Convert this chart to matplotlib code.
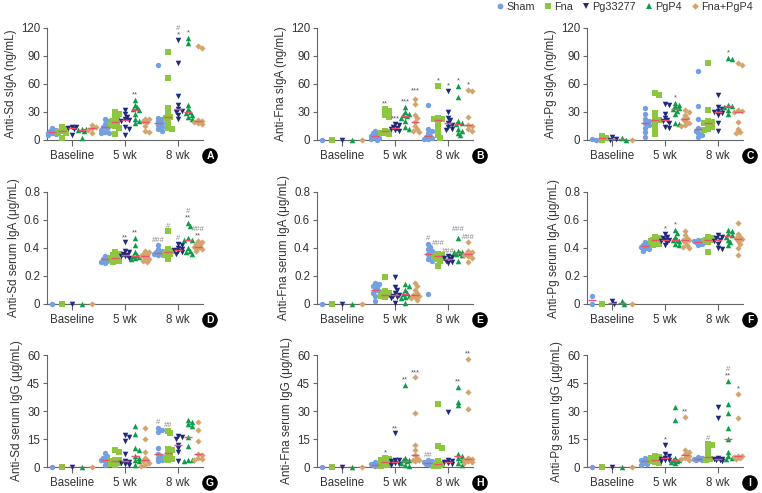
import numpy as np
import matplotlib.pyplot as plt
from matplotlib.lines import Line2D

plt.rcParams['font.family'] = ['Liberation Sans', 'DejaVu Sans']

groups = ['Sham', 'Fna', 'Pg33277', 'PgP4', 'Fna+PgP4']
times = ['Baseline', '5 wk', '8 wk']
colors = ['#72a0e0', '#8dc63f', '#1f2a7c', '#0f9c4a', '#d5a46c']
markers = ['o', 's', 'v', '^', 'D']
msizes = [15, 13, 16, 16, 10]

# ---- A: anti-Sd sIgA (ng/mL)
A_base = [[13, 11, 9, 8, 7, 6, 5, 10], [14, 12, 10, 9, 8, 2], [14, 13.5, 13, 12, 5],
          [12, 11.5, 11, 10, 2], [16, 14, 12.5, 11, 7]]
A_wk5 = [[22, 20, 17, 15, 14, 13, 11, 9, 8, 7], [30, 28, 25, 22, 20, 18, 17, 15, 13, 6],
         [32, 28, 25, 22, 21, 20, 14, 12, 5], [43, 38, 35, 33, 32, 28, 22, 20, 18],
         [23, 22, 20, 19, 15, 10, 9]]
A_wk8 = [[80, 24, 22, 20, 18, 16, 14, 12, 10], [94, 66, 34, 28, 25, 24, 18, 13, 12],
         [107, 82, 47, 37, 33, 31, 30, 27, 23], [109, 104, 37, 33, 30, 29, 27, 25, 23],
         [101, 99, 21, 20, 19, 18, 17]]
A_sig = {(1, 3): ['**'], (2, 2): ['*', '#'], (2, 3): ['*']}

# ---- B: anti-Fna sIgA (ng/mL)
B_base = [[0], [0], [0], [0], [0]]
B_wk5 = [[10, 9, 7, 5, 4, 3, 2, 1, 0.5], [33, 31, 27, 25, 10, 9, 8, 7, 6],
         [17, 16, 14, 13, 13, 12, 11, 10], [35, 30, 28, 27, 26, 24, 20, 14, 12],
         [44, 39, 27, 24, 19, 15, 12, 10, 9]]
B_wk8 = [[37, 12, 10, 7, 4, 3, 2, 1.5, 1], [58, 24, 23, 22, 21, 15, 10, 5, 2],
         [53, 30, 24, 21, 18, 16, 14, 12, 11], [58, 46, 20, 18, 17, 12, 10, 8, 5],
         [54, 52, 25, 16, 15, 12, 10]]
B_sig = {(1, 1): ['**'], (1, 2): ['***'], (1, 3): ['***'], (1, 4): ['***'],
         (2, 1): ['*'], (2, 2): ['*'], (2, 3): ['*'], (2, 4): ['*']}

# ---- C: anti-Pg sIgA (ng/mL)
C_base = [[1, 0], [4, 2, 0.5], [3, 1, 0], [2, 0], [0]]
C_wk5 = [[34, 28, 22, 20, 18, 16, 13, 9, 3], [50, 48, 29, 22, 21, 18, 14, 10, 6],
         [39, 37, 28, 24, 21, 20, 18, 14, 13], [40, 38, 36, 34, 33, 31, 28, 18, 17],
         [32, 30, 27, 24, 23, 20, 18, 16, 15]]
C_wk8 = [[74, 36, 22, 13, 12, 10, 7, 5, 3], [83, 32, 20, 19, 18, 16, 14, 12, 11],
         [48, 35, 33, 31, 30, 29, 27, 18, 10], [88, 87, 37, 36, 35, 32, 28],
         [82, 80, 32, 31, 30, 19, 12, 9, 7]]
C_sig = {(1, 3): ['*'], (2, 3): ['*']}

# ---- D: anti-Sd serum IgA (ug/mL)
D_base = [[0], [0], [0], [0], [0]]
D_wk5 = [[0.34, 0.33, 0.33, 0.32, 0.32, 0.31, 0.30, 0.29], [0.37, 0.36, 0.35, 0.34, 0.33, 0.33, 0.32, 0.31, 0.30],
         [0.44, 0.38, 0.37, 0.36, 0.35, 0.345, 0.34, 0.33, 0.33], [0.47, 0.42, 0.37, 0.35, 0.34, 0.335, 0.33, 0.33, 0.32],
         [0.38, 0.37, 0.36, 0.35, 0.34, 0.33, 0.32, 0.31, 0.30]]
D_wk8 = [[0.42, 0.39, 0.38, 0.37, 0.365, 0.36, 0.36, 0.35, 0.35], [0.52, 0.39, 0.38, 0.37, 0.37, 0.36, 0.35, 0.32],
         [0.43, 0.42, 0.40, 0.39, 0.385, 0.38, 0.37, 0.36, 0.36], [0.58, 0.56, 0.47, 0.46, 0.455, 0.40, 0.38, 0.37, 0.36],
         [0.45, 0.44, 0.43, 0.42, 0.41, 0.40, 0.39, 0.38, 0.38]]
D_sig = {(1, 2): ['**'], (1, 3): ['**'], (2, 0): ['###'], (2, 1): ['#'], (2, 2): ['#'],
         (2, 3): ['**', '#'], (2, 4): ['**', '###']}

# ---- E: anti-Fna serum IgA (ug/mL)
E_base = [[0], [0], [0], [0], [0]]
E_wk5 = [[0.15, 0.14, 0.13, 0.12, 0.10, 0.09, 0.08, 0.06, 0.02], [0.19, 0.09, 0.08, 0.07, 0.065, 0.06, 0.06, 0.05],
         [0.19, 0.12, 0.10, 0.08, 0.065, 0.06, 0.05, 0.04, 0.01], [0.14, 0.13, 0.10, 0.08, 0.07, 0.06, 0.05, 0.04, 0.01],
         [0.15, 0.13, 0.10, 0.08, 0.065, 0.06, 0.05, 0.04, 0.03]]
E_wk8 = [[0.43, 0.41, 0.39, 0.38, 0.36, 0.34, 0.32, 0.31, 0.07], [0.36, 0.35, 0.345, 0.34, 0.34, 0.33, 0.32, 0.31, 0.27],
         [0.34, 0.335, 0.33, 0.32, 0.32, 0.31, 0.30, 0.29], [0.47, 0.38, 0.375, 0.37, 0.365, 0.36, 0.35, 0.31],
         [0.44, 0.38, 0.37, 0.36, 0.355, 0.35, 0.34, 0.33, 0.30]]
E_sig = {(2, 0): ['#'], (2, 1): ['###'], (2, 2): ['###'], (2, 3): ['###'], (2, 4): ['###']}

# ---- F: anti-Pg serum IgA (ug/mL)
F_base = [[0.06, 0], [0], [0.02, 0], [0.02, 0], [0]]
F_wk5 = [[0.44, 0.43, 0.42, 0.42, 0.415, 0.41, 0.40, 0.39, 0.38], [0.48, 0.47, 0.46, 0.455, 0.455, 0.45, 0.44, 0.43, 0.42],
         [0.50, 0.48, 0.47, 0.46, 0.455, 0.45, 0.44, 0.42], [0.53, 0.51, 0.48, 0.46, 0.455, 0.45, 0.43, 0.42],
         [0.52, 0.49, 0.47, 0.46, 0.455, 0.44, 0.42, 0.41, 0.40]]
F_wk8 = [[0.46, 0.455, 0.45, 0.445, 0.44, 0.43, 0.42], [0.48, 0.47, 0.46, 0.455, 0.45, 0.44, 0.37],
         [0.49, 0.48, 0.47, 0.46, 0.45, 0.43, 0.40, 0.39], [0.53, 0.52, 0.50, 0.49, 0.48, 0.46, 0.44, 0.42],
         [0.58, 0.50, 0.48, 0.47, 0.465, 0.45, 0.43, 0.40, 0.35]]
F_sig = {(1, 2): ['*'], (1, 3): ['*']}

# ---- G: anti-Sd serum IgG (ug/mL)
G_base = [[0], [0], [0], [0], [0]]
G_wk5 = [[7.5, 6, 5, 4, 3.5, 3, 2, 1], [9, 8, 4, 3.5, 3, 2.5, 2, 1.5, 1],
         [17, 16, 14, 7, 3, 2.5, 2, 1.5, 1], [22, 17.5, 10, 9, 6, 5, 4, 3, 1],
         [21, 15, 8, 5, 3.5, 3, 2, 1, 0.5]]
G_wk8 = [[21, 20, 19, 10, 7, 6, 5, 4, 3], [19.5, 18, 9.5, 9, 7.5, 6, 5, 4.5, 4],
         [16.5, 16, 15, 12, 10, 8, 3], [25, 24, 23, 22, 16, 11, 4, 3.5, 3],
         [24, 20, 14, 7, 6.5, 5, 4.5, 4]]
G_sig = {(2, 0): ['#'], (2, 1): ['##']}

# ---- H: anti-Fna serum IgG (ug/mL)
H_base = [[0], [0], [0], [0], [0]]
H_wk5 = [[2.5, 2, 1.5, 1.2, 1, 0.5, 0.3], [5, 4.5, 4, 3, 2, 1.5, 1, 0.5],
         [18, 4, 3.5, 3, 2, 2, 1.5, 1], [44, 5, 4, 3.5, 3, 2, 1, 0.5],
         [48, 29, 12, 9, 6.5, 5, 4, 3.5, 3]]
H_wk8 = [[3.5, 3, 2.5, 2, 1.6, 1.5, 1], [34, 11, 10, 3, 1.8, 1.5, 1, 0.5, 0.3],
         [29.5, 3.5, 3, 2.5, 2.5, 2, 1.5], [43, 35, 33, 7, 6, 5, 4, 2, 1],
         [58, 40, 31, 5, 4.5, 4, 3, 2.5, 2]]
H_sig = {(1, 1): ['*'], (1, 2): ['**'], (1, 3): ['**'], (1, 4): ['***'],
         (2, 0): ['##'], (2, 3): ['**'], (2, 4): ['**']}

# ---- I: anti-Pg serum IgG (ug/mL)
I_base = [[0], [0], [0], [0], [0]]
I_wk5 = [[5, 4.5, 4, 3.5, 3, 2, 1.5, 1], [6, 5.5, 5, 4, 3.5, 3, 2.5, 2],
         [12, 7, 6, 5, 4.5, 4, 3.5, 3], [32, 25, 5, 4, 3.5, 3, 2.5, 2],
         [27, 9, 8, 7, 6, 5, 4.5, 4]]
I_wk8 = [[5.5, 5, 4.5, 4.3, 4, 3.5, 3.5], [12.5, 12, 9, 6, 4.5, 4.5, 4, 4],
         [32, 26.5, 5, 4.5, 4.3, 4, 3.5, 3], [46, 34, 29, 21, 15, 8, 6, 5, 4.5],
         [39, 26, 6, 5.7, 5.5, 5, 4.5]]
I_sig = {(1, 2): ['*'], (1, 4): ['**'], (2, 1): ['#'], (2, 3): ['**', '#'], (2, 4): ['*']}

# extra lift (px) for marks that sit higher in the picture
sig_lift = {('B', 1, 4): 3, ('E', 2, 1): 5, ('E', 2, 3): 4}

ylabels = ['Anti-Sd sIgA (ng/mL)', 'Anti-Fna sIgA (ng/mL)', 'Anti-Pg sIgA (ng/mL)',
           'Anti-Sd serum IgA (μg/mL)', 'Anti-Fna serum IgA (μg/mL)', 'Anti-Pg serum IgA (μg/mL)',
           'Anti-Sd serum IgG (μg/mL)', 'Anti-Fna serum IgG (μg/mL)', 'Anti-Pg serum IgG (μg/mL)']
row_ticks = [[0, 30, 60, 90, 120], [0, 0.2, 0.4, 0.6, 0.8], [0, 15, 30, 45, 60]]
row_ticklabels = [['0', '30', '60', '90', '120'], ['0', '0.2', '0.4', '0.6', '0.8'],
                  ['0', '15', '30', '45', '60']]

panels = [('A', A_base, A_wk5, A_wk8, A_sig), ('B', B_base, B_wk5, B_wk8, B_sig),
          ('C', C_base, C_wk5, C_wk8, C_sig), ('D', D_base, D_wk5, D_wk8, D_sig),
          ('E', E_base, E_wk5, E_wk8, E_sig), ('F', F_base, F_wk5, F_wk8, F_sig),
          ('G', G_base, G_wk5, G_wk8, G_sig), ('H', H_base, H_wk5, H_wk8, H_sig),
          ('I', I_base, I_wk5, I_wk8, I_sig)]

W, H = 762, 493
fig = plt.figure(figsize=(W / 100, H / 100), dpi=100)

col_left = [47, 317, 587]
row_top = [28, 192, 355]
aw, ah = 156, 112
xlim = (-0.47, 2.47)
goff = [-0.38, -0.19, 0.0, 0.19, 0.38]
axcol = '#666666'
txtcol = '#333333'


def swarm(ypx, step=2.0, mind=3.2):
    # greedy beeswarm in pixel units, returns x offsets (px)
    offs = np.zeros(len(ypx))
    placed = []
    for i in np.argsort(-ypx):
        best, bestd = 0, -1
        for k in [0, 1, -1, 2, -2]:
            ox = k * step
            d = min([np.hypot(ox - px, ypx[i] - py) for px, py in placed] + [99])
            if d >= mind:
                best = ox
                break
            if d > bestd:
                best, bestd = ox, d
        placed.append((best, ypx[i]))
        offs[i] = best
    return offs


for n, (letter, base, wk5, wk8, sig) in enumerate(panels):
    r, c = divmod(n, 3)
    ax = fig.add_axes([col_left[c] / W, 1 - (row_top[r] + ah) / H, aw / W, ah / H])
    ymax = row_ticks[r][-1]
    ax.set_xlim(*xlim)
    ax.set_ylim(0, ymax)
    upx = aw / (xlim[1] - xlim[0])
    ypx_per = ah / ymax
    for t, tdata in enumerate([base, wk5, wk8]):
        for g, vals in enumerate(tdata):
            vals = np.unique(np.array(vals, dtype=float))
            xc = t + goff[g]
            offs = swarm(vals * ypx_per) / upx
            ax.scatter(xc + offs, vals, s=msizes[g], marker=markers[g], color=colors[g],
                       linewidths=0, clip_on=False, zorder=3)
            med = np.median(tdata[g])
            ax.plot([xc - 0.08, xc + 0.08], [med, med], color='#f0506a', lw=1.0,
                    zorder=4, solid_capstyle='butt')
            if (t, g) in sig:
                lift = sig_lift.get((letter, t, g), 0)
                yb = max(tdata[g]) + (3.5 + lift) / ypx_per
                for lab in sig[(t, g)]:
                    ax.text(xc, yb, lab, ha='center', va='baseline', fontsize=5.5,
                            color='#888888' if '#' in lab else '#555555', zorder=5)
                    yb += 6.5 / ypx_per
    for s in ['top', 'right']:
        ax.spines[s].set_visible(False)
    for s in ['left', 'bottom']:
        ax.spines[s].set_color(axcol)
        ax.spines[s].set_linewidth(0.8)
    ax.set_yticks(row_ticks[r])
    ax.set_yticklabels(row_ticklabels[r])
    ax.set_xticks([0, 1, 2])
    ax.set_xticklabels(times)
    ax.tick_params(axis='both', colors=axcol, labelcolor=txtcol, labelsize=8.3,
                   width=0.8, length=3, pad=2)
    ax.tick_params(axis='x', length=4, pad=3)
    ax.set_ylabel(ylabels[n], fontsize=8.5, color=txtcol, labelpad=3)
    fig.text((col_left[c] + aw + 7) / W, 1 - (row_top[r] + ah + 16) / H, letter,
             ha='center', va='center', fontsize=7.5, fontweight='bold', color='white',
             bbox=dict(boxstyle='circle,pad=0.2', fc='black', ec='black'))

handles = [Line2D([], [], marker=markers[i], color=colors[i], linestyle='none',
                  markersize=4.2 if markers[i] != 'D' else 3.4, markeredgewidth=0)
           for i in range(5)]
fig.legend(handles, groups, loc='upper right', bbox_to_anchor=(755 / W, 1.0), ncol=5,
           fontsize=7.8, frameon=False, handletextpad=0.3, columnspacing=0.9,
           handlelength=0.6, borderaxespad=0, borderpad=0.15, labelcolor=txtcol)

fig.savefig('out.png', dpi=100)
